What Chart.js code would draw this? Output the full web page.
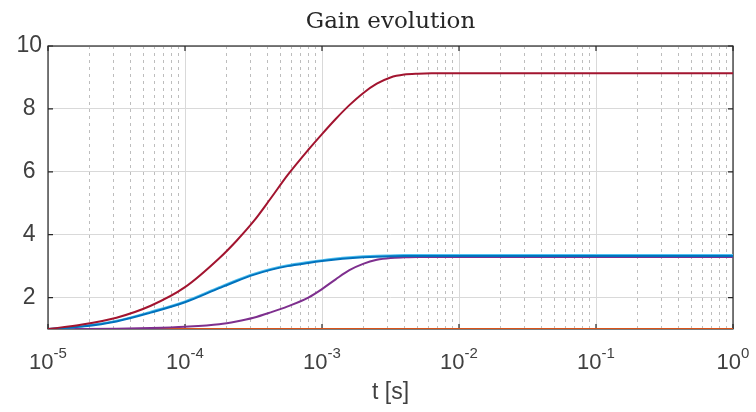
<!DOCTYPE html>
<html><head><meta charset="utf-8">
<script src="https://cdn.jsdelivr.net/npm/chart.js@4/dist/chart.umd.min.js"></script>
<style>html,body{margin:0;padding:0;background:#fff}</style>
</head><body>
<canvas id="c" width="756" height="412"></canvas>
<script>
// time samples [s]
const times = [1e-5, 1.778e-5, 3.162e-5, 5.623e-5, 1e-4, 1.778e-4, 2.371e-4, 3.162e-4, 4.217e-4, 5.623e-4, 7.943e-4, 1e-3, 1.259e-3, 1.585e-3, 1.995e-3, 2.512e-3, 3.162e-3, 3.981e-3, 5.012e-3, 6.310e-3, 1e-2, 1e-1, 1];
// gain series
const gainRed       = [1.00, 1.14, 1.36, 1.74, 2.33, 3.25, 3.80, 4.42, 5.15, 5.90, 6.70, 7.20, 7.68, 8.12, 8.50, 8.80, 9.00, 9.09, 9.12, 9.13, 9.13, 9.13, 9.13];
const gainBlue      = [1.00, 1.08, 1.24, 1.52, 1.85, 2.30, 2.52, 2.72, 2.88, 3.00, 3.10, 3.16, 3.21, 3.25, 3.28, 3.30, 3.31, 3.32, 3.32, 3.32, 3.32, 3.32, 3.32];
const gainLightBlue = [1.00, 1.09, 1.26, 1.55, 1.88, 2.33, 2.55, 2.75, 2.91, 3.03, 3.13, 3.19, 3.24, 3.28, 3.31, 3.33, 3.34, 3.35, 3.35, 3.35, 3.35, 3.35, 3.35];
const gainPurple    = [1.00, 1.00, 1.01, 1.03, 1.07, 1.15, 1.24, 1.36, 1.53, 1.72, 2.00, 2.27, 2.58, 2.87, 3.07, 3.20, 3.26, 3.28, 3.29, 3.29, 3.29, 3.29, 3.29];
const gainOrange    = [1.00, 1.00, 1.00, 1.00, 1.00, 1.00, 1.00, 1.00, 1.00, 1.00, 1.00, 1.00, 1.00, 1.00, 1.00, 1.00, 1.00, 1.00, 1.00, 1.00, 1.00, 1.00, 1.00];
// ticks
const xDecades = [1e-5, 1e-4, 1e-3, 1e-2, 1e-1, 1];
const xTickBase = '10';
const xTickExponents = ['-5', '-4', '-3', '-2', '-1', '0'];
const yTicks = [2, 4, 6, 8, 10];
const yTickLabels = ['2', '4', '6', '8', '10'];
const minorMultipliers = [2, 3, 4, 5, 6, 7, 8, 9];
const titleText = 'Gain evolution';
const xTitle = 't [s]';

const pts = (vals) => times.map((t, i) => ({x: t, y: vals[i]}));
const minorTicks = [];
xDecades.slice(0, -1).forEach(d => minorMultipliers.forEach(m => minorTicks.push({value: d * m})));

const mk = (label, vals, color, order) => ({
  label, data: pts(vals), borderColor: color, backgroundColor: color,
  borderWidth: 2, pointRadius: 0, fill: false, cubicInterpolationMode: 'monotone', order
});

const boxPlugin = {
  id: 'box',
  beforeDatasetsDraw(chart) {
    const {ctx, chartArea: a, scales} = chart;
    ctx.save();
    ctx.strokeStyle = '#262626';
    ctx.lineWidth = 1.2;
    ctx.strokeRect(a.left, a.top, a.right - a.left, a.bottom - a.top);
    ctx.beginPath();
    xDecades.forEach(d => {
      const x = scales.x.getPixelForValue(d);
      ctx.moveTo(x, a.bottom); ctx.lineTo(x, a.bottom - 5);
      ctx.moveTo(x, a.top); ctx.lineTo(x, a.top + 5);
    });
    yTicks.forEach(v => {
      const y = scales.y.getPixelForValue(v);
      ctx.moveTo(a.left, y); ctx.lineTo(a.left + 5, y);
      ctx.moveTo(a.right, y); ctx.lineTo(a.right - 5, y);
    });
    ctx.stroke();
    ctx.restore();
  },
  afterDraw(chart) {
    const {ctx, chartArea: a, scales} = chart;
    ctx.save();
    ctx.fillStyle = '#404040';
    ctx.textBaseline = 'alphabetic';
    ctx.textAlign = 'left';
    const baseY = a.bottom + 40;
    xDecades.forEach((d, i) => {
      const x = scales.x.getPixelForValue(d);
      ctx.font = '22px "Liberation Sans"';
      const wb = ctx.measureText(xTickBase).width;
      ctx.font = '15px "Liberation Sans"';
      const we = ctx.measureText(xTickExponents[i]).width;
      const start = x - (wb + we) / 2;
      ctx.font = '22px "Liberation Sans"';
      ctx.fillText(xTickBase, start, baseY);
      ctx.font = '15px "Liberation Sans"';
      ctx.fillText(xTickExponents[i], start + wb, baseY - 11);
    });
    ctx.restore();
  }
};

new Chart(document.getElementById('c'), {
  type: 'line',
  data: {
    datasets: [
      mk('red', gainRed, '#A2142F', 0),
      mk('blue', gainBlue, '#0072BD', 1),
      mk('light blue', gainLightBlue, '#4DBEEE', 2),
      mk('purple', gainPurple, '#7E2F8E', 3),
      mk('orange', gainOrange, '#D95319', 4)
    ]
  },
  options: {
    responsive: false,
    devicePixelRatio: 1,
    animation: false,
    layout: {padding: {left: 0, right: 23, top: 0, bottom: 0}},
    plugins: {
      legend: {display: false},
      tooltip: {enabled: false},
      title: {
        display: true, text: titleText, color: '#262626', fullSize: false,
        font: {family: 'DejaVu Serif', size: 23, weight: 'normal', lineHeight: 1.2},
        padding: {top: 8, bottom: 10.4}
      }
    },
    scales: {
      x: {
        type: 'logarithmic', position: 'bottom', min: 1e-5, max: 1,
        afterBuildTicks: s => { s.ticks = xDecades.map(v => ({value: v})); },
        afterFit: s => { s.height = 83; },
        ticks: {
          autoSkip: false, maxRotation: 0, padding: 18, color: '#404040',
          font: {family: 'Liberation Sans', size: 22},
          callback: () => ''
        },
        grid: {color: '#d9d9d9', lineWidth: 1, drawTicks: false},
        border: {display: false},
        title: {display: true, text: xTitle, color: '#404040',
          font: {family: 'Liberation Sans', size: 23, lineHeight: 1.2}, padding: {top: 4, bottom: 6}}
      },
      x2: {
        type: 'logarithmic', position: 'top', min: 1e-5, max: 1,
        afterBuildTicks: s => { s.ticks = minorTicks.slice(); },
        afterFit: s => { s.height = 0; },
        ticks: {display: false, autoSkip: false},
        grid: {color: '#bdbdbd', lineWidth: 1, drawTicks: false},
        border: {display: false, dash: [3, 4]}
      },
      y: {
        type: 'linear', min: 1, max: 10,
        afterBuildTicks: s => { s.ticks = yTicks.map(v => ({value: v})); },
        afterFit: s => { s.width = 48; },
        ticks: {
          padding: 6, crossAlign: 'center', color: '#404040',
          font: {family: 'Liberation Sans', size: 23},
          callback: (v, i) => yTickLabels[i]
        },
        grid: {color: '#d9d9d9', lineWidth: 1, drawTicks: false},
        border: {display: false}
      }
    }
  },
  plugins: [boxPlugin]
});
</script>
</body></html>
